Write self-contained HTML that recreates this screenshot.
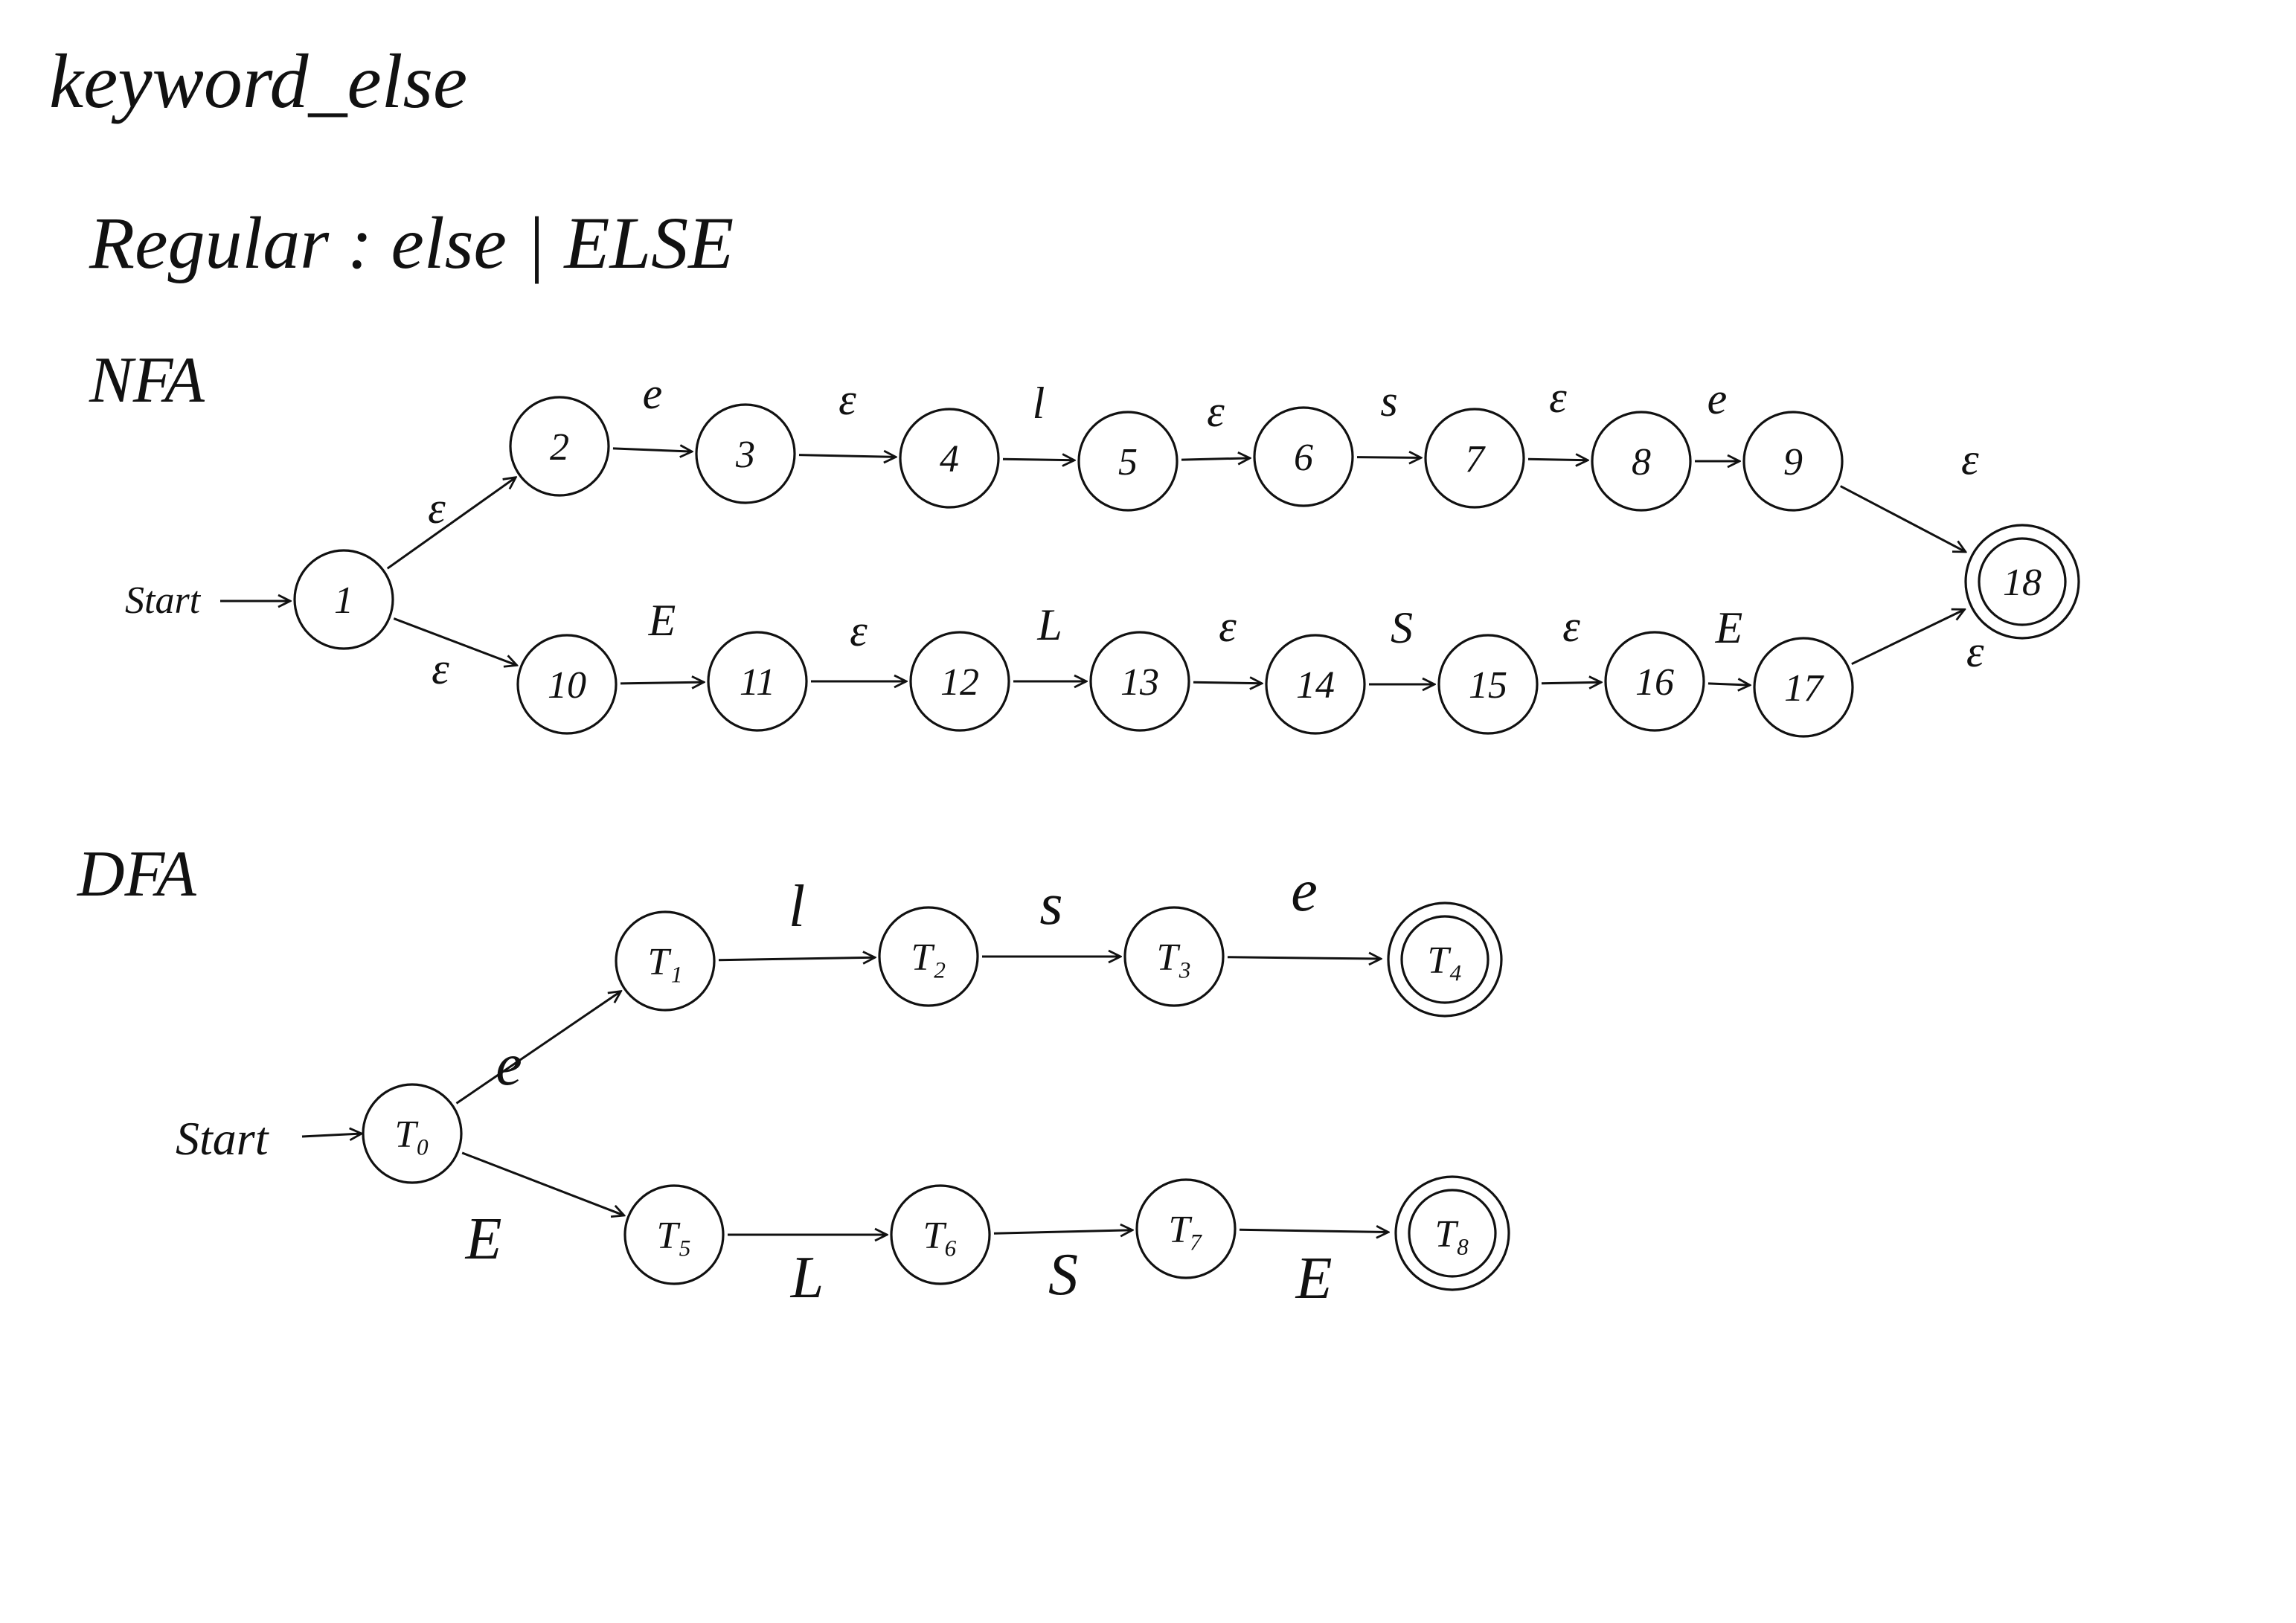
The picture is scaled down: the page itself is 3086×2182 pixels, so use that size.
<!DOCTYPE html>
<html><head><meta charset="utf-8"><style>
html,body{margin:0;padding:0;background:#fff;}
svg{display:block;}
text{font-family:"Liberation Serif",serif;font-style:italic;fill:#111;}
</style></head><body>
<svg id="canvas" width="3086" height="2182" viewBox="0 0 1543 1091" xmlns="http://www.w3.org/2000/svg">
<defs><marker id="ah" markerWidth="10" markerHeight="10" refX="9" refY="5" orient="auto" markerUnits="userSpaceOnUse"><path d="M1,1 L9,5 L1,9" fill="none" stroke="#111" stroke-width="1.4"/></marker></defs>
<text x="33" y="72" font-size="52">keyword_else</text>
<text x="60" y="180" font-size="50">Regular : else | ELSE</text>
<text x="60" y="270" font-size="44">NFA</text>
<text x="52" y="602" font-size="44">DFA</text>
<text x="84" y="412" font-size="26">Start</text>
<text x="118" y="776" font-size="32">Start</text>
<g id="g"></g>
</svg>
<script>
const nodeIds=["1","2","3","4","5","6","7","8","9","18","10","11","12","13","14","15","16","17","T0","T1","T2","T3","T4","T5","T6","T7","T8"];
const nodeX=[231,376,501,638,758,876,991,1103,1205,1359,381,509,645,766,884,1000,1112,1212,277,447,624,789,971,453,632,797,976];
const nodeY=[403,300,305,308,310,307,308,310,310,391,460,458,458,458,460,460,458,462,762,646,643,643,645,830,830,826,829];
const nodeLabels=["1","2","3","4","5","6","7","8","9","18","10","11","12","13","14","15","16","17","T₀","T₁","T₂","T₃","T₄","T₅","T₆","T₇","T₈"];
const finalNodes=["18","T4","T8"];
const edgeFrom=["1","2","3","4","5","6","7","8","9","1","10","11","12","13","14","15","16","17","T0","T1","T2","T3","T0","T5","T6","T7"];
const edgeTo=["2","3","4","5","6","7","8","9","18","10","11","12","13","14","15","16","17","18","T1","T2","T3","T4","T5","T6","T7","T8"];
const edgeLabels=["ε","e","ε","l","ε","s","ε","e","ε","ε","E","ε","L","ε","S","ε","E","ε","e","l","s","e","E","L","S","E"];
const labelDX=[-10,0,0,0,0,0,0,0,45,-10,0,0,0,0,0,0,0,45,-20,0,0,0,-40,0,0,0];
const labelDY=[0,-28,-28,-28,-22,-28,-32,-32,-30,28,-32,-24,-28,-28,-28,-28,-28,20,25,-22,-22,-32,50,42,42,45];
const g=document.getElementById('g');
const NS="http://www.w3.org/2000/svg";
function el(t,a){const e=document.createElementNS(NS,t);for(const k in a)e.setAttribute(k,a[k]);g.appendChild(e);return e;}
function idx(id){return nodeIds.indexOf(id);}
// start arrows
let s1=el('line',{x1:148,y1:404,x2:195,y2:404,stroke:'#111','stroke-width':1.5,'marker-end':'url(#ah)'});


let s2=el('line',{x1:203,y1:764,x2:243,y2:762,stroke:'#111','stroke-width':1.5,'marker-end':'url(#ah)'});


const R=33;
for(let i=0;i<edgeFrom.length;i++){
  const a=idx(edgeFrom[i]),b=idx(edgeTo[i]);
  const x1=nodeX[a],y1=nodeY[a],x2=nodeX[b],y2=nodeY[b];
  const dx=x2-x1,dy=y2-y1,L=Math.hypot(dx,dy);
  const rb=finalNodes.includes(edgeTo[i])?40:R;
  const sx=x1+dx/L*(R+3),sy=y1+dy/L*(R+3),ex=x2-dx/L*(rb+3),ey=y2-dy/L*(rb+3);
  const ln=el('line',{x1:sx,y1:sy,x2:ex,y2:ey,stroke:'#111','stroke-width':1.5,'marker-end':'url(#ah)'});
  
  
  const t=el('text',{x:(sx+ex)/2+labelDX[i],y:(sy+ey)/2+labelDY[i],'font-size':(edgeFrom[i][0]==='T'?40:30),'text-anchor':'middle'});
  t.textContent=edgeLabels[i];
  
  
}
for(let i=0;i<nodeIds.length;i++){
  const fin=finalNodes.includes(nodeIds[i]);
  const c=el('circle',{cx:nodeX[i],cy:nodeY[i],r:fin?38:R,fill:'none',stroke:'#111','stroke-width':1.6});
  
  
  if(fin){
    const c2=el('circle',{cx:nodeX[i],cy:nodeY[i],r:29,fill:'none',stroke:'#111','stroke-width':1.6});
    
    
  }
  const t=el('text',{x:nodeX[i],y:nodeY[i]+9,'font-size':26,'text-anchor':'middle'});
  t.textContent=nodeLabels[i];
  
  
}
</script>
</body></html>
